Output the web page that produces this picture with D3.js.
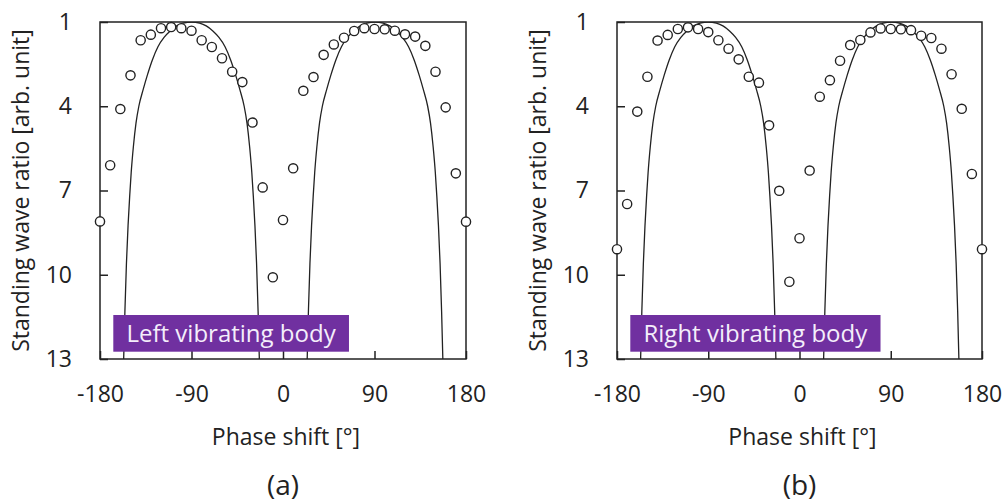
<!DOCTYPE html>
<html lang="en">
<head>
<meta charset="utf-8" />
<title>Standing wave ratio vs phase shift</title>
<style>
  body { margin:0; background:#fff; }
  svg  { display:block; font-family:"Open Sans", sans-serif; }
  text { fill:#222; }
</style>
</head>
<body>
<svg width="1005" height="504"></svg>

<script src="https://cdn.jsdelivr.net/npm/d3@7"></script>
<script>
/* ---------- DATA ---------- */
const phase = [-180,-170,-160,-150,-140,-130,-120,-110,-100,-90,-80,-70,-60,-50,-40,-30,-20,-10,
               0,10,20,30,40,50,60,70,80,90,100,110,120,130,140,150,160,170,180];

const swrLeft  = [8.1,6.1,4.1,2.9,1.65,1.45,1.22,1.18,1.22,1.31,1.65,1.89,2.29,2.77,3.14,4.58,6.89,10.09,
                  8.05,6.21,3.45,2.96,2.17,1.8,1.56,1.32,1.22,1.25,1.26,1.31,1.44,1.52,1.85,2.77,4.04,6.39,8.11];

const swrRight = [9.09,7.48,4.19,2.95,1.66,1.46,1.25,1.19,1.25,1.36,1.65,1.95,2.33,2.95,3.16,4.68,7.01,10.25,
                  8.7,6.29,3.66,3.07,2.38,1.82,1.64,1.37,1.23,1.25,1.26,1.29,1.49,1.57,1.95,2.86,4.09,6.41,9.09];

// calculated curve (same in both panels), two arches
const arch1Phase = [-157,-155.5,-154,-152.4,-150.8,-149.3,-147.2,-144.6,-141.8,-137.5,-133.5,-128.5,-123,-117,-111,-104.5,-98,
                    -90,
                    -82,-75.5,-69,-63,-57,-51.5,-46.5,-42.5,-38.2,-35.4,-32.8,-30.7,-29.2,-27.6,-26,-24.5,-23];
const arch2Phase = [23.5,25,26.5,28.1,29.7,31.2,33.3,35.9,38.7,43,47,52,57.5,63.5,69.5,76,82.5,
                    90.5,
                    98.5,105,111.5,117.5,123.5,129,134,138,142.3,145.1,147.7,149.8,151.3,152.9,154.5,156,157.5];
const archSwr    = [13.4,11.3,9.6,8.25,7.2,6.35,5.45,4.6,4.0,3.4,2.9,2.35,1.88,1.55,1.32,1.14,1.04,
                    1,
                    1.04,1.14,1.32,1.55,1.88,2.35,2.9,3.4,4.0,4.6,5.45,6.35,7.2,8.25,9.6,11.3,13.4];

const xTicks = [-180,-90,0,90,180];
const yTicks = [1,4,7,10,13];

const panels = [
  { left:100, right:466, label:"Left vibrating body",  tag:"(a)", swr:swrLeft  },
  { left:617, right:982, label:"Right vibrating body", tag:"(b)", swr:swrRight }
];

/* ---------- LAYOUT ---------- */
const plotTop = 22, plotBottom = 359;
const svg = d3.select("svg");
const y = d3.scaleLinear().domain([1,13]).range([plotTop,plotBottom]);

panels.forEach((p,i) => {
  const x = d3.scaleLinear().domain([-180,180]).range([p.left,p.right]);
  const g = svg.append("g");
  const cx = (p.left+p.right)/2;

  g.append("clipPath").attr("id","clip"+i)
    .append("rect").attr("x",p.left).attr("y",plotTop)
    .attr("width",p.right-p.left).attr("height",plotBottom-plotTop);

  // axes with inward ticks, plain hyphen for negatives
  const xa = g.append("g").attr("transform",`translate(0,${plotBottom})`)
    .call(d3.axisBottom(x).tickValues(xTicks).tickFormat(d => String(d))
      .tickSizeInner(-8).tickSizeOuter(0).tickPadding(27));
  const ya = g.append("g").attr("transform",`translate(${p.left},0)`)
    .call(d3.axisLeft(y).tickValues(yTicks).tickFormat(d => String(d))
      .tickSizeInner(-8).tickSizeOuter(0).tickPadding(28));
  [xa,ya].forEach(a => {
    a.select(".domain").remove();
    a.selectAll("line").attr("stroke","#222").attr("stroke-width",1.5);
    a.selectAll("text").attr("font-size",23).attr("font-family","Open Sans").attr("fill","#222");
  });

  // frame
  g.append("rect").attr("x",p.left).attr("y",plotTop)
    .attr("width",p.right-p.left).attr("height",plotBottom-plotTop)
    .attr("fill","none").attr("stroke","#222").attr("stroke-width",1.5);

  // model curve
  const line = d3.line().x(d=>x(d[0])).y(d=>y(d[1])).curve(d3.curveMonotoneX);
  [arch1Phase, arch2Phase].forEach(ph => {
    g.append("path")
      .datum(ph.map((v,k)=>[v,archSwr[k]]))
      .attr("clip-path",`url(#clip${i})`)
      .attr("d",line)
      .attr("fill","none").attr("stroke","#222").attr("stroke-width",1.3);
  });

  // measured points
  g.append("g").selectAll("circle")
    .data(phase.map((v,k)=>[v,p.swr[k]]))
    .join("circle")
      .attr("cx",d=>x(d[0])).attr("cy",d=>y(d[1])).attr("r",4.6)
      .attr("fill","#fff").attr("stroke","#222").attr("stroke-width",1.4);

  // label box
  const lab = g.append("g");
  const t = lab.append("text")
    .attr("x",p.left+26.5).attr("y",341.5)
    .attr("font-size",24).style("fill","#f4eefb")
    .text(p.label);
  const w = t.node().getComputedTextLength();
  lab.insert("rect","text")
    .attr("x",p.left+13.3).attr("y",315)
    .attr("width",w+26.5).attr("height",36.7)
    .attr("fill","#7030a0");

  // axis titles
  g.append("text")
    .attr("transform",`translate(${p.left-71},${(plotTop+plotBottom)/2}) rotate(-90)`)
    .attr("text-anchor","middle").attr("font-size",23)
    .text("Standing wave ratio [arb. unit]");
  g.append("text")
    .attr("x",cx+3).attr("y",445).attr("text-anchor","middle").attr("font-size",23)
    .text("Phase shift [°]");
  g.append("text")
    .attr("x",cx).attr("y",495).attr("text-anchor","middle").attr("font-size",28)
    .text(p.tag);
});
</script>
</body>
</html>
